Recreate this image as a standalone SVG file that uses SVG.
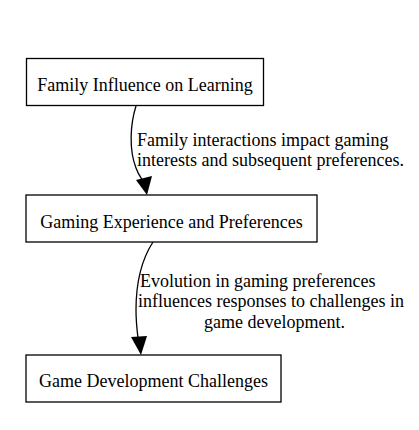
<svg xmlns="http://www.w3.org/2000/svg" width="419" height="430" viewBox="0 0 419 430">
<defs>
<style>
.box{fill:#fff;stroke:#000;stroke-width:1.3}
.t{font-family:"Liberation Serif","Times New Roman",serif;font-size:18px;fill:#000}
.m{text-anchor:middle}
.e{fill:none;stroke:#000;stroke-width:1.3}
</style>
<marker id="ah" viewBox="0 0 10 10" refX="10" refY="5" markerWidth="10" markerHeight="10" markerUnits="userSpaceOnUse" orient="auto">
<path d="M0,0 L10,5 L0,10 z" fill="#000"/>
</marker>
</defs>
<rect width="419" height="430" fill="#fff"/>
<g id="edges">
<path class="e" d="M136,106 C130,125 129,150 136,168 C138,174 141,178 143,181"/>
<path d="M136,180 L152,176 L147,195 z" fill="#000"/>
<path class="e" d="M153,242 C140,262 136,285 136,310 C136,322 137,330 138,338"/>
<path d="M131,337 L147,336 L141,355 z" fill="#000"/>
<text class="t" x="137" y="146">Family interactions impact gaming</text>
<text class="t" x="137" y="166">interests and subsequent preferences.</text>
<text class="t" x="140" y="287">Evolution in gaming preferences</text>
<text class="t" x="138" y="307">influences responses to challenges in</text>
<text class="t" x="204" y="328">game development.</text>
</g>
<g id="node1">
<rect class="box" x="26.5" y="58.5" width="237" height="47"/>
<text class="t m" x="145" y="91">Family Influence on Learning</text>
</g>
<g id="node2">
<rect class="box" x="26" y="195" width="291" height="47"/>
<text class="t m" x="171.5" y="228">Gaming Experience and Preferences</text>
</g>
<g id="node3">
<rect class="box" x="26" y="355" width="255" height="47"/>
<text class="t m" x="153.5" y="387">Game Development Challenges</text>
</g>
</svg>
